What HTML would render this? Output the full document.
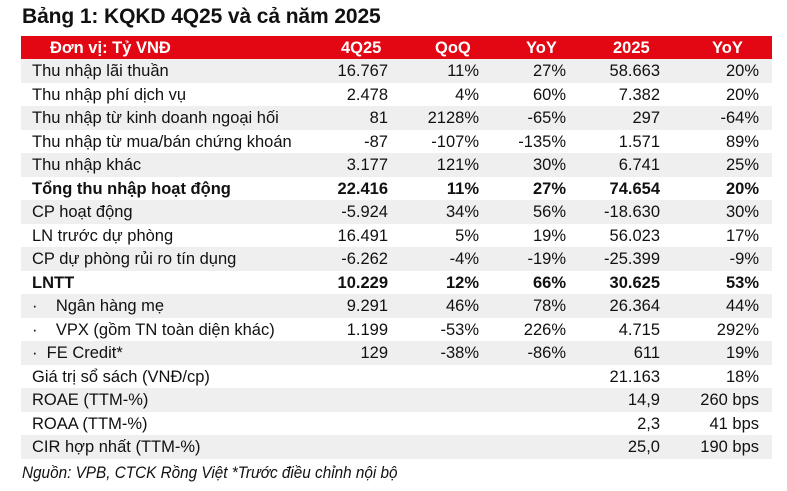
<!DOCTYPE html>
<html><head><meta charset="utf-8"><style>
body{margin:0;width:787px;height:491px;background:#fff;font-family:"Liberation Sans",sans-serif;color:#111;position:relative;overflow:hidden}
.title{position:absolute;left:22px;top:5px;font-size:21px;font-weight:bold;letter-spacing:-0.1px}
.hdr{position:absolute;left:21px;top:36px;width:751px;height:23px;background:#e30613;color:#fff;font-weight:bold;font-size:16.5px}
.row{position:absolute;left:21px;width:751px;height:23.5px;font-size:16.5px}
.g{background:#efefef}
.c{position:absolute;top:3px;white-space:nowrap}
.r{text-align:right}
.b{font-weight:bold}
.foot{position:absolute;left:22px;top:463px;font-size:17px;font-style:italic;transform:scaleX(0.9);transform-origin:left}
</style></head><body>
<div class="title">Bảng 1: KQKD 4Q25 và cả năm 2025</div>
<div class="hdr">
<span class="c" style="left:29px">Đơn vị: Tỷ VNĐ</span>
<span class="c" style="left:320px">4Q25</span>
<span class="c" style="left:414px">QoQ</span>
<span class="c" style="left:505px">YoY</span>
<span class="c" style="left:592px">2025</span>
<span class="c" style="left:691px">YoY</span>
</div>
<div id="t"></div>
<div class="foot">Nguồn: VPB, CTCK Rồng Việt *Trước điều chỉnh nội bộ</div>
<script>
var rows=[
["Thu nhập lãi thuần","16.767","11%","27%","58.663","20%"],
["Thu nhập phí dịch vụ","2.478","4%","60%","7.382","20%"],
["Thu nhập từ kinh doanh ngoại hối","81","2128%","-65%","297","-64%"],
["Thu nhập từ mua/bán chứng khoán","-87","-107%","-135%","1.571","89%"],
["Thu nhập khác","3.177","121%","30%","6.741","25%"],
["Tổng thu nhập hoạt động","22.416","11%","27%","74.654","20%",1],
["CP hoạt động","-5.924","34%","56%","-18.630","30%"],
["LN trước dự phòng","16.491","5%","19%","56.023","17%"],
["CP dự phòng rủi ro tín dụng","-6.262","-4%","-19%","-25.399","-9%"],
["LNTT","10.229","12%","66%","30.625","53%",1],
["·&nbsp;&nbsp;&nbsp;&nbsp;Ngân hàng mẹ","9.291","46%","78%","26.364","44%"],
["·&nbsp;&nbsp;&nbsp;&nbsp;VPX (gồm TN toàn diện khác)","1.199","-53%","226%","4.715","292%"],
["·&nbsp;&nbsp;FE Credit*","129","-38%","-86%","611","19%"],
["Giá trị sổ sách (VNĐ/cp)","","","","21.163","18%"],
["ROAE (TTM-%)","","","","14,9","260 bps"],
["ROAA (TTM-%)","","","","2,3","41 bps"],
["CIR hợp nhất (TTM-%)","","","","25,0","190 bps"]];
var R=[367,458,545,639,738],h="";
rows.forEach(function(r,i){
h+='<div class="row'+(i%2==0?' g':'')+(r[6]?' b':'')+'" style="top:'+(59+i*23.5)+'px">';
h+='<span class="c" style="left:11px">'+r[0]+'</span>';
for(var j=1;j<6;j++)h+='<span class="c r" style="right:'+(751-R[j-1])+'px">'+r[j]+'</span>';
h+='</div>';});
document.getElementById('t').innerHTML=h;
</script>
</body></html>
